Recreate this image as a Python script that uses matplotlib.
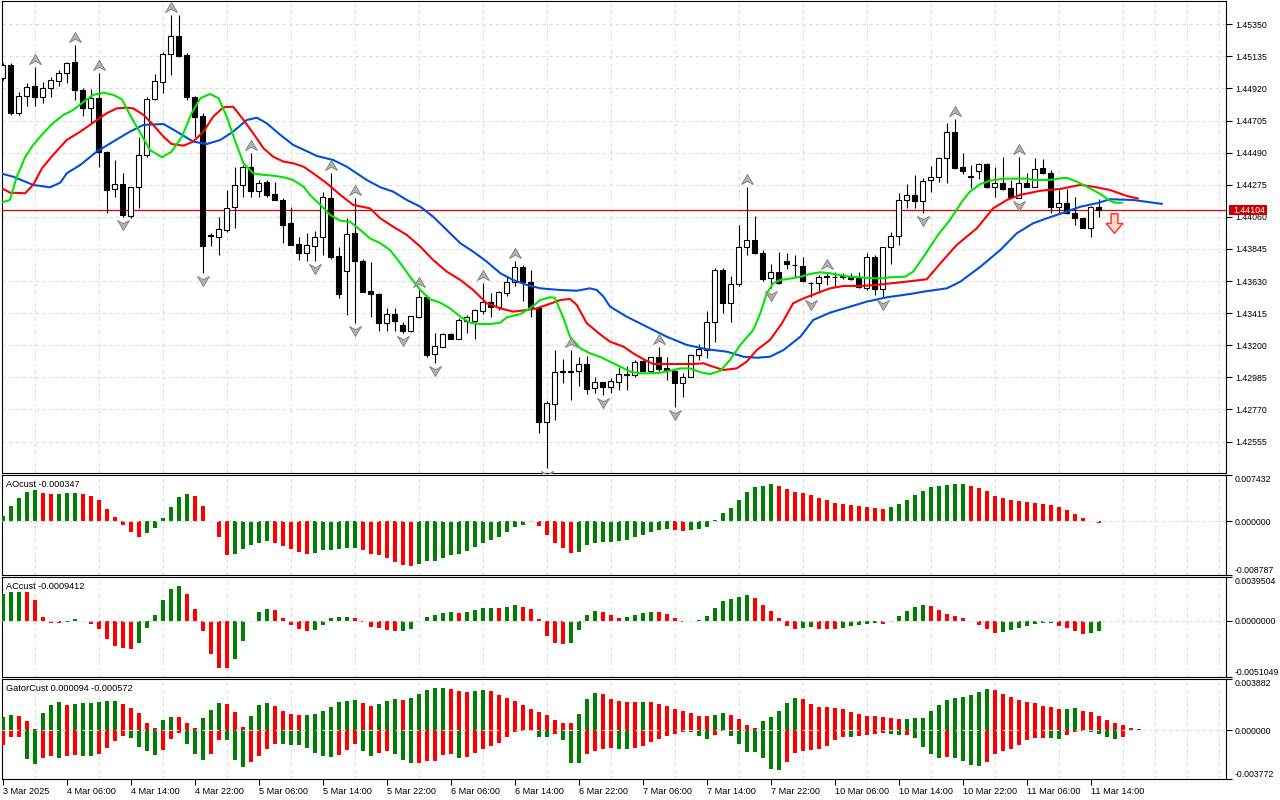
import numpy as np
import matplotlib
matplotlib.use("Agg")
import matplotlib.pyplot as plt
from matplotlib.path import Path
from matplotlib.patches import Rectangle

plt.rcParams['font.family'] = ['Liberation Sans', 'DejaVu Sans']
plt.rcParams['font.size'] = 6.6

# ---- H1 candles, oldest first (3 Mar 22:00 -> 11 Mar 15:00) ----
opens = [1.44990, 1.45078, 1.44756, 1.44870, 1.44937, 1.44863, 1.44923, 1.44970, 1.45024, 1.45098,
         1.44910, 1.44789, 1.44856, 1.44495, 1.44247, 1.44280, 1.44066, 1.44260, 1.44475, 1.44850,
         1.44964, 1.45151, 1.45272, 1.45145, 1.44863, 1.44736, 1.43932, 1.43925, 1.43972, 1.44126,
         1.44274, 1.44394, 1.44233, 1.44294, 1.44213, 1.44173, 1.44019, 1.43878, 1.43818, 1.43867,
         1.43927, 1.44184, 1.43800, 1.43699, 1.43950, 1.43766, 1.43561, 1.43541, 1.43351, 1.43407,
         1.43336, 1.43297, 1.43391, 1.43521, 1.43139, 1.43190, 1.43275, 1.43240, 1.43362, 1.43364,
         1.43431, 1.43488, 1.43458, 1.43552, 1.43626, 1.43722, 1.43626, 1.43447, 1.42688, 1.42806,
         1.43023, 1.43027, 1.43029, 1.43072, 1.42911, 1.42952, 1.42922, 1.42956, 1.43001, 1.43001,
         1.43094, 1.43029, 1.43119, 1.43045, 1.43029, 1.42949, 1.42989, 1.43133, 1.43168, 1.43358,
         1.43704, 1.43485, 1.43608, 1.43860, 1.43905, 1.43816, 1.43648, 1.43689, 1.43764, 1.43738,
         1.43731, 1.43619, 1.43615, 1.43659, 1.43659, 1.43659, 1.43666, 1.43648, 1.43581, 1.43793,
         1.43575, 1.43856, 1.43934, 1.44173, 1.44205, 1.44164, 1.44307, 1.44325, 1.44452, 1.44627,
         1.44392, 1.44329, 1.44367, 1.44412, 1.44258, 1.44285, 1.44251, 1.44188, 1.44285, 1.44262,
         1.44385, 1.44352, 1.44128, 1.44151, 1.44084, 1.44050, 1.43983, 1.44124]
highs = [1.45091, 1.45091, 1.44897, 1.44957, 1.45064, 1.44964, 1.44997, 1.45044, 1.45098, 1.45212,
         1.44923, 1.44917, 1.45024, 1.44501, 1.44441, 1.44354, 1.44260, 1.44595, 1.44863, 1.45017,
         1.45165, 1.45413, 1.45413, 1.45158, 1.44870, 1.44756, 1.43952, 1.44059, 1.44240, 1.44394,
         1.44408, 1.44488, 1.44307, 1.44307, 1.44294, 1.44186, 1.44126, 1.43925, 1.43952, 1.43965,
         1.44229, 1.44352, 1.43856, 1.44054, 1.44184, 1.43778, 1.43760, 1.43548, 1.43447, 1.43447,
         1.43358, 1.43396, 1.43570, 1.43537, 1.43280, 1.43280, 1.43282, 1.43380, 1.43403, 1.43441,
         1.43619, 1.43548, 1.43563, 1.43659, 1.43764, 1.43738, 1.43704, 1.43463, 1.42826, 1.43168,
         1.43106, 1.43168, 1.43123, 1.43128, 1.42989, 1.42956, 1.42978, 1.43056, 1.43061, 1.43101,
         1.43101, 1.43123, 1.43186, 1.43123, 1.43041, 1.43016, 1.43141, 1.43206, 1.43429, 1.43717,
         1.43717, 1.43664, 1.44006, 1.44262, 1.44066, 1.43838, 1.43744, 1.43827, 1.43820, 1.43805,
         1.43793, 1.43626, 1.43671, 1.43693, 1.43689, 1.43682, 1.43682, 1.43693, 1.43816, 1.43805,
         1.43860, 1.43961, 1.44222, 1.44280, 1.44341, 1.44318, 1.44401, 1.44463, 1.44687, 1.44714,
         1.44490, 1.44408, 1.44419, 1.44418, 1.44392, 1.44459, 1.44307, 1.44459, 1.44352, 1.44456,
         1.44446, 1.44374, 1.44240, 1.44245, 1.44191, 1.44053, 1.44133, 1.44178]
lows = [1.44977, 1.44743, 1.44743, 1.44803, 1.44803, 1.44823, 1.44863, 1.44937, 1.44957, 1.44843,
        1.44736, 1.44689, 1.44394, 1.44086, 1.44193, 1.44059, 1.44053, 1.44119, 1.44461, 1.44843,
        1.44890, 1.45011, 1.45131, 1.44843, 1.44595, 1.43684, 1.43865, 1.43805, 1.43959, 1.43985,
        1.44193, 1.44193, 1.44193, 1.44193, 1.44173, 1.43885, 1.43872, 1.43771, 1.43764, 1.43766,
        1.43805, 1.43776, 1.43514, 1.43403, 1.43347, 1.43557, 1.43387, 1.43297, 1.43297, 1.43297,
        1.43280, 1.43291, 1.43380, 1.43119, 1.43083, 1.43186, 1.43240, 1.43240, 1.43282, 1.43240,
        1.43409, 1.43391, 1.43436, 1.43532, 1.43597, 1.43498, 1.43391, 1.42610, 1.42375, 1.42699,
        1.42945, 1.42833, 1.42927, 1.42871, 1.42878, 1.42867, 1.42878, 1.42900, 1.42900, 1.42989,
        1.43029, 1.43023, 1.43029, 1.42967, 1.42784, 1.42855, 1.42985, 1.43101, 1.43112, 1.43224,
        1.43418, 1.43358, 1.43597, 1.43805, 1.43811, 1.43632, 1.43585, 1.43610, 1.43711, 1.43659,
        1.43626, 1.43525, 1.43552, 1.43604, 1.43599, 1.43644, 1.43637, 1.43581, 1.43570, 1.43537,
        1.43525, 1.43744, 1.43872, 1.44117, 1.44117, 1.44084, 1.44229, 1.44296, 1.44289, 1.44381,
        1.44347, 1.44251, 1.44312, 1.44253, 1.44195, 1.44240, 1.44188, 1.44184, 1.44258, 1.44258,
        1.44347, 1.44088, 1.44088, 1.44079, 1.44006, 1.43983, 1.43927, 1.44061]
closes = [1.45078, 1.44756, 1.44870, 1.44930, 1.44863, 1.44923, 1.44977, 1.45024, 1.45091, 1.44910,
          1.44789, 1.44856, 1.44495, 1.44240, 1.44280, 1.44073, 1.44260, 1.44475, 1.44850, 1.44970,
          1.45151, 1.45272, 1.45138, 1.44863, 1.44729, 1.43865, 1.43939, 1.43979, 1.44119, 1.44274,
          1.44394, 1.44233, 1.44287, 1.44207, 1.44173, 1.44006, 1.43872, 1.43818, 1.43872, 1.43927,
          1.44191, 1.43793, 1.43541, 1.43943, 1.43766, 1.43559, 1.43541, 1.43351, 1.43407, 1.43364,
          1.43297, 1.43396, 1.43525, 1.43135, 1.43195, 1.43275, 1.43242, 1.43369, 1.43389, 1.43436,
          1.43492, 1.43454, 1.43555, 1.43626, 1.43722, 1.43626, 1.43447, 1.42688, 1.42811, 1.43023,
          1.43027, 1.43023, 1.43072, 1.42905, 1.42952, 1.42922, 1.42960, 1.43007, 1.43004, 1.43086,
          1.43029, 1.43119, 1.43039, 1.43029, 1.42949, 1.42989, 1.43135, 1.43173, 1.43358, 1.43704,
          1.43485, 1.43608, 1.43860, 1.43905, 1.43820, 1.43644, 1.43689, 1.43615, 1.43742, 1.43735,
          1.43632, 1.43616, 1.43655, 1.43662, 1.43656, 1.43662, 1.43642, 1.43588, 1.43793, 1.43575,
          1.43856, 1.43934, 1.44173, 1.44205, 1.44164, 1.44300, 1.44325, 1.44452, 1.44627, 1.44387,
          1.44369, 1.44332, 1.44412, 1.44257, 1.44289, 1.44247, 1.44190, 1.44285, 1.44262, 1.44381,
          1.44352, 1.44128, 1.44151, 1.44084, 1.44050, 1.43985, 1.44124, 1.44104]
LAST_PRICE = 1.44104

# Bill Williams fractals (bar indices)
up_fractals = [4, 9, 12, 21, 31, 41, 44, 52, 60, 64, 71, 82, 93, 103, 119, 127]
down_fractals = [15, 25, 39, 44, 50, 54, 68, 75, 84, 96, 101, 110, 115, 127]

# sell signal object
signal_bar = 138.9
signal_price = 1.44016

# Alligator lines (bar index, price); shifted lines run past the last bar
jaw_x = [-0.3, 1.3, 3.8, 5.9, 7.2, 8.0, 9.7, 11.75, 13.8, 15.9, 17.6, 20.1, 21.75, 23.8, 25.5, 27.2, 28.8,
         30.5, 31.75, 33.0, 34.7, 36.3, 38.4, 39.25, 41.3, 43.0, 45.5, 47.2, 48.8, 50.5, 52.2, 53.8, 55.5,
         57.2, 58.8, 60.5, 62.2, 63.8, 65.5, 67.2, 69.7, 71.75, 73.4, 74.25, 75.1, 75.9, 78.0, 80.5, 83.0,
         85.5, 88.0, 90.5, 92.6, 94.25, 95.9, 97.6, 99.7, 101.3, 103.4, 105.9, 108.0, 110.5, 113.4, 115.1,
         118.0, 119.7, 122.2, 124.7, 126.75, 128.8, 130.5, 132.6, 134.7, 136.75, 138.4, 141.3, 145.0]
jaw_y = [1.44352, 1.44329, 1.44274, 1.44258, 1.44289, 1.44352, 1.44408, 1.44497, 1.44564, 1.44631, 1.44676,
         1.44682, 1.44631, 1.44564, 1.44548, 1.44575, 1.44631, 1.44709, 1.44724, 1.44687, 1.44609, 1.44542,
         1.44490, 1.44468, 1.44441, 1.44396, 1.44307, 1.44258, 1.44229, 1.44173, 1.44128, 1.44061, 1.43972,
         1.43883, 1.43827, 1.43760, 1.43682, 1.43637, 1.43604, 1.43581, 1.43570, 1.43565, 1.43581, 1.43570,
         1.43525, 1.43459, 1.43391, 1.43324, 1.43257, 1.43202, 1.43173, 1.43157, 1.43123, 1.43116, 1.43123,
         1.43168, 1.43257, 1.43369, 1.43418, 1.43458, 1.43492, 1.43521, 1.43543, 1.43559, 1.43581, 1.43626,
         1.43726, 1.43838, 1.43950, 1.44017, 1.44050, 1.44088, 1.44128, 1.44151, 1.44178, 1.44173, 1.44146]
teeth_x = [-0.3, 0.9, 2.8, 3.8, 4.9, 6.3, 8.0, 9.7, 11.3, 13.0, 14.25, 15.5, 16.3, 17.6, 18.8, 20.1, 21.1,
           22.6, 23.8, 25.1, 26.3, 27.6, 28.8, 30.1, 31.3, 32.6, 33.8, 35.1, 36.3, 37.6, 38.8, 40.5, 42.2,
           43.8, 45.9, 47.2, 48.8, 50.5, 52.2, 53.8, 55.5, 57.2, 58.8, 60.5, 62.2, 63.8, 65.5, 66.75, 68.0,
           69.7, 70.9, 71.75, 73.0, 74.7, 75.9, 77.6, 78.8, 80.1, 81.3, 83.0, 84.7, 86.3, 87.6, 88.8, 90.1,
           91.75, 93.0, 94.25, 95.9, 97.4, 98.8, 100.1, 101.75, 103.4, 105.1, 107.2, 109.25, 110.9, 113.0,
           115.5, 117.2, 119.25, 121.75, 123.8, 125.5, 127.2, 129.7, 132.2, 134.7, 136.3, 138.4, 140.5, 142.0]
teeth_y = [1.44258, 1.44222, 1.44218, 1.44274, 1.44385, 1.44475, 1.44575, 1.44631, 1.44691, 1.44754, 1.44787,
           1.44791, 1.44787, 1.44743, 1.44676, 1.44597, 1.44548, 1.44537, 1.44564, 1.44631, 1.44731, 1.44794,
           1.44798, 1.44709, 1.44620, 1.44519, 1.44463, 1.44430, 1.44419, 1.44396, 1.44352, 1.44285, 1.44207,
           1.44140, 1.44117, 1.44050, 1.43994, 1.43939, 1.43860, 1.43771, 1.43693, 1.43637, 1.43570, 1.43481,
           1.43447, 1.43425, 1.43436, 1.43447, 1.43470, 1.43503, 1.43510, 1.43470, 1.43347, 1.43272, 1.43224,
           1.43190, 1.43146, 1.43106, 1.43074, 1.43074, 1.43074, 1.43074, 1.43079, 1.43056, 1.43034, 1.43045,
           1.43090, 1.43168, 1.43235, 1.43347, 1.43481, 1.43514, 1.43548, 1.43581, 1.43597, 1.43597, 1.43604,
           1.43614, 1.43626, 1.43642, 1.43749, 1.43872, 1.43983, 1.44117, 1.44173, 1.44207, 1.44235, 1.44247,
           1.44274, 1.44262, 1.44240, 1.44200, 1.44182]
lips_x = [-0.3, 0.9, 1.75, 2.8, 3.8, 5.1, 6.3, 7.6, 8.8, 10.1, 11.3, 12.6, 13.8, 14.9, 15.9, 17.2, 18.4, 19.9,
          21.1, 22.4, 23.6, 24.7, 25.9, 27.0, 28.0, 29.0, 30.1, 31.3, 32.6, 33.8, 35.1, 36.3, 37.6, 38.4, 39.7,
          40.9, 42.2, 43.4, 44.7, 45.9, 47.2, 48.4, 49.7, 50.9, 52.2, 53.4, 54.7, 55.9, 57.2, 58.4, 59.7, 60.9,
          62.2, 63.0, 64.7, 65.9, 67.2, 68.4, 69.0, 70.1, 70.9, 72.2, 73.4, 74.7, 75.9, 77.2, 78.4, 79.7, 80.9,
          82.2, 83.4, 84.7, 85.9, 87.2, 88.4, 89.7, 90.9, 92.2, 93.8, 94.7, 95.5, 96.3, 97.2, 98.4, 99.7, 100.9,
          102.2, 103.4, 104.7, 105.9, 107.2, 108.4, 109.7, 110.9, 112.8, 113.8, 115.1, 116.9, 118.4, 119.9,
          120.9, 122.2, 123.4, 125.1, 128.0, 128.8, 130.9, 132.2, 133.0, 134.25, 135.5, 137.2, 138.4, 139.0, 140.0]
lips_y = [1.44153, 1.44173, 1.44327, 1.44461, 1.44542, 1.44622, 1.44689, 1.44743, 1.44776, 1.44830, 1.44877,
          1.44892, 1.44877, 1.44848, 1.44743, 1.44622, 1.44508, 1.44459, 1.44497, 1.44597, 1.44754, 1.44854,
          1.44883, 1.44854, 1.44731, 1.44575, 1.44419, 1.44352, 1.44341, 1.44336, 1.44325, 1.44307, 1.44262,
          1.44207, 1.44140, 1.44073, 1.44034, 1.44028, 1.43972, 1.43916, 1.43883, 1.43838, 1.43749, 1.43659,
          1.43570, 1.43508, 1.43485, 1.43447, 1.43391, 1.43351, 1.43342, 1.43342, 1.43351, 1.43387, 1.43409,
          1.43447, 1.43503, 1.43521, 1.43518, 1.43380, 1.43257, 1.43179, 1.43146, 1.43121, 1.43090, 1.43056,
          1.43023, 1.43012, 1.43012, 1.43016, 1.43029, 1.43045, 1.43045, 1.43019, 1.43007, 1.43029, 1.43101,
          1.43202, 1.43302, 1.43414, 1.43548, 1.43615, 1.43637, 1.43646, 1.43659, 1.43677, 1.43689, 1.43682,
          1.43669, 1.43659, 1.43655, 1.43650, 1.43647, 1.43655, 1.43659, 1.43693, 1.43793, 1.43939, 1.44039,
          1.44162, 1.44229, 1.44280, 1.44302, 1.44316, 1.44316, 1.44307, 1.44307, 1.44318, 1.44322, 1.44296,
          1.44262, 1.44213, 1.44168, 1.44155, 1.44155]

# Awesome Oscillator
ao = [0.000812, 0.002435, 0.003733, 0.004707, 0.004977, 0.004544, 0.004382, 0.004436, 0.004544, 0.004598,
      0.004328, 0.004003, 0.003408, 0.001948, 0.000649, -0.000595, -0.001785, -0.002597, -0.001948, -0.001082,
      0.000487, 0.002272, 0.003895, 0.004382, 0.004058, 0.002435, -0.000054, -0.002597, -0.005464, -0.005302,
      -0.004490, -0.003841, -0.003571, -0.003246, -0.003571, -0.004058, -0.004490, -0.005031, -0.005356, -0.005194,
      -0.004707, -0.004653, -0.004490, -0.004436, -0.004328, -0.004653, -0.005356, -0.005464, -0.006005, -0.006654,
      -0.007141, -0.007304, -0.006925, -0.006546, -0.006492, -0.006005, -0.005464, -0.005302, -0.004869, -0.004220,
      -0.003571, -0.003084, -0.002597, -0.001785, -0.000974, -0.000595, -0.000162, -0.000812, -0.002272, -0.003571,
      -0.004382, -0.005194, -0.005031, -0.003895, -0.003571, -0.003408, -0.003354, -0.003246, -0.003084, -0.002597,
      -0.002272, -0.001785, -0.001461, -0.001298, -0.001461, -0.001623, -0.001461, -0.001298, -0.000974, 0.000108,
      0.001298, 0.002110, 0.003408, 0.004707, 0.005518, 0.005681, 0.006005, 0.005681, 0.005194, 0.004707,
      0.004490, 0.004166, 0.003787, 0.003408, 0.002921, 0.002759, 0.002597, 0.002435, 0.002272, 0.002110,
      0.001948, 0.002272, 0.002759, 0.003408, 0.004220, 0.004869, 0.005518, 0.005681, 0.005843, 0.006005,
      0.006059, 0.005681, 0.005356, 0.004869, 0.004058, 0.003733, 0.003408, 0.003246, 0.003084, 0.002921,
      0.002759, 0.002597, 0.002272, 0.001785, 0.001136, 0.000487, -0.000054, -0.000347]

# Accelerator Oscillator
ac = [0.002476, 0.002627, 0.002658, 0.002627, 0.001903, 0.000362, -0.000151, -0.000181, -0.000060, 0.000181,
      -0.000030, -0.000242, -0.000695, -0.001601, -0.002235, -0.002416, -0.002507, -0.001963, -0.000604, 0.000513,
      0.001903, 0.002899, 0.003171, 0.002446, 0.001087, -0.000876, -0.002960, -0.004228, -0.004258, -0.003413,
      -0.001782, -0.000030, 0.000815, 0.001087, 0.000997, 0.000272, -0.000332, -0.000695, -0.000876, -0.000846,
      -0.000332, 0.000272, 0.000362, 0.000393, 0.000272, -0.000060, -0.000513, -0.000604, -0.000785, -0.000936,
      -0.000906, -0.000695, -0.000030, 0.000362, 0.000544, 0.000725, 0.000815, 0.000725, 0.000815, 0.000997,
      0.001178, 0.001208, 0.001178, 0.001268, 0.001450, 0.001268, 0.001087, 0.000181, -0.001329, -0.001963,
      -0.002054, -0.001963, -0.000785, 0.000544, 0.000906, 0.000815, 0.000544, 0.000272, 0.000362, 0.000544,
      0.000725, 0.000815, 0.000785, 0.000634, 0.000272, -0.000060, -0.000030, 0.000091, 0.000453, 0.001178,
      0.001812, 0.001993, 0.002174, 0.002356, 0.002084, 0.001450, 0.000906, 0.000272, -0.000423, -0.000695,
      -0.000604, -0.000574, -0.000695, -0.000725, -0.000755, -0.000604, -0.000423, -0.000332, -0.000242, -0.000211,
      -0.000242, -0.000060, 0.000453, 0.000906, 0.001268, 0.001450, 0.001359, 0.000997, 0.000634, 0.000453,
      0.000272, -0.000030, -0.000332, -0.000695, -0.001057, -0.000966, -0.000785, -0.000604, -0.000423, -0.000242,
      -0.000211, -0.000181, -0.000423, -0.000604, -0.000876, -0.001148, -0.001117, -0.0009412]

# Gator oscillator (upper = |jaw-teeth|, lower = -|teeth-lips|)
gator_up = [0.000995, 0.001148, 0.001046, 0.000689, 0.000077, 0.001301, 0.001913, 0.002142, 0.001913, 0.001989,
            0.002066, 0.002091, 0.002142, 0.002219, 0.002244, 0.001989, 0.001683, 0.001301, 0.000536, 0.000153,
            0.000765, 0.000995, 0.000969, 0.000536, 0.000153, 0.000918, 0.001530, 0.002066, 0.001989, 0.001377,
            0.000230, 0.001071, 0.001913, 0.002066, 0.001836, 0.001454, 0.001224, 0.001148, 0.001173, 0.001224,
            0.001454, 0.001760, 0.002142, 0.002219, 0.002295, 0.002066, 0.001836, 0.001989, 0.002219, 0.002372,
            0.002295, 0.002448, 0.002754, 0.003060, 0.003213, 0.003239, 0.003137, 0.002984, 0.002907, 0.002984,
            0.003060, 0.002984, 0.002678, 0.002448, 0.002219, 0.001913, 0.001607, 0.001377, 0.001148, 0.000765,
            0.000561, 0.000536, 0.001224, 0.002372, 0.002831, 0.002754, 0.002372, 0.002219, 0.002142, 0.002117,
            0.002168, 0.002142, 0.001989, 0.001836, 0.001607, 0.001454, 0.001301, 0.001071, 0.001046, 0.001148,
            0.001301, 0.001148, 0.000842, 0.000383, 0.000153, 0.000689, 0.000995, 0.001454, 0.002066, 0.002448,
            0.002372, 0.001989, 0.001760, 0.001734, 0.001709, 0.001607, 0.001377, 0.001224, 0.001071, 0.001046,
            0.001020, 0.000918, 0.000842, 0.000867, 0.000893, 0.000918, 0.001454, 0.001913, 0.002295, 0.002448,
            0.002525, 0.002678, 0.002907, 0.003137, 0.003060, 0.002754, 0.002525, 0.002295, 0.002142, 0.002066,
            0.001836, 0.001760, 0.001607, 0.001632, 0.001658, 0.001454, 0.001377, 0.001071, 0.000765, 0.000536,
            0.000383, 0.000153, 0.000094]
gator_lo = [-0.001122, -0.000536, -0.000510, -0.002193, -0.002601, -0.002142, -0.001989, -0.002142, -0.001989, -0.001938,
            -0.001964, -0.001989, -0.001836, -0.001377, -0.000816, -0.000459, -0.000612, -0.001301, -0.001607, -0.001913,
            -0.001530, -0.000689, -0.000230, -0.001071, -0.001836, -0.002295, -0.001836, -0.000765, -0.000791, -0.002295,
            -0.002831, -0.002448, -0.001989, -0.001454, -0.001071, -0.001097, -0.001122, -0.001148, -0.001377, -0.001760,
            -0.001989, -0.002066, -0.001913, -0.001530, -0.001071, -0.001607, -0.001989, -0.001760, -0.001607, -0.001836,
            -0.002295, -0.002525, -0.002499, -0.002372, -0.002346, -0.001913, -0.001836, -0.002142, -0.002066, -0.001760,
            -0.001454, -0.001224, -0.000995, -0.000536, -0.000153, -0.000077, -0.000051, -0.000536, -0.000561, -0.000306,
            -0.000765, -0.002525, -0.002550, -0.001836, -0.001607, -0.001454, -0.001377, -0.001454, -0.001479, -0.001377,
            -0.001224, -0.000918, -0.000689, -0.000459, -0.000306, -0.000153, -0.000179, -0.000459, -0.000689, -0.000383,
            -0.000077, -0.000459, -0.001071, -0.001683, -0.001709, -0.002142, -0.002984, -0.003060, -0.002448, -0.001760,
            -0.001607, -0.001530, -0.001454, -0.001224, -0.000765, -0.000536, -0.000561, -0.000459, -0.000383, -0.000306,
            -0.000230, -0.000306, -0.000383, -0.000357, -0.000612, -0.001301, -0.001836, -0.002142, -0.002066, -0.002142,
            -0.002372, -0.002678, -0.002754, -0.002448, -0.001836, -0.001607, -0.001454, -0.001148, -0.000765, -0.000612,
            -0.000587, -0.000612, -0.000689, -0.000383, -0.000153, -0.000102, -0.000128, -0.000281, -0.000536, -0.000689,
            -0.000572]

price_ticks = [1.45350, 1.45135, 1.44920, 1.44705, 1.44490, 1.44275, 1.44060,
               1.43845, 1.43630, 1.43415, 1.43200, 1.42985, 1.42770, 1.42555]
time_labels = ['3 Mar 2025', '4 Mar 06:00', '4 Mar 14:00', '4 Mar 22:00', '5 Mar 06:00', '5 Mar 14:00',
               '5 Mar 22:00', '6 Mar 06:00', '6 Mar 14:00', '6 Mar 22:00', '7 Mar 06:00', '7 Mar 14:00',
               '7 Mar 22:00', '10 Mar 06:00', '10 Mar 14:00', '10 Mar 22:00', '11 Mar 06:00', '11 Mar 14:00']

# window scales of the three sub-windows
ao_range = (-0.008787, 0.007432)
ac_range = (-0.0051049, 0.0039504)
gator_range = (-0.003772, 0.003882)

GREEN = '#008000'
RED = '#ff0000'
GRID = '#dcdcdc'
DASH = (0, (3, 3))
NUM_SIZE = 6.3


def rising(vals, first):
    v = np.asarray(vals)
    out = np.empty(len(v), dtype=bool)
    out[0] = first
    out[1:] = v[1:] > v[:-1]
    return out


def bar_colors(flags):
    return [GREEN if f else RED for f in flags]


fig = plt.figure(figsize=(12.8, 8), dpi=100)
L, W = 0.0012, 0.9566
ax = fig.add_axes([L, 0.40875, W, 0.59])
ax_ao = fig.add_axes([L, 0.28088, W, 0.125])
ax_ac = fig.add_axes([L, 0.15338, W, 0.125])
ax_gt = fig.add_axes([L, 0.02588, W, 0.125])
XLIM = (-0.15, 152.9)

for a in (ax, ax_ao, ax_ac, ax_gt):
    a.set_xlim(*XLIM)
    a.set_xticks(np.arange(0, 137, 8))
    a.set_xticks(np.arange(4, 153, 4), minor=True)
    a.tick_params(axis='x', which='minor', length=0)
    a.grid(True, which='minor', axis='x', color=GRID, ls=DASH, lw=0.8)
    a.set_axisbelow(True)
    for s in a.spines.values():
        s.set_linewidth(0.8)
        s.set_color('black')
    if a is not ax_gt:
        a.tick_params(axis='x', which='major', length=0, labelbottom=False)

# ---- main window: candles ----
o, h, l, c = (np.array(v) for v in (opens, highs, lows, closes))
x = np.arange(len(o))
bull = c >= o
ax.vlines(x, l, h, color='black', lw=0.8, zorder=3)
ax.bar(x, np.maximum(np.abs(c - o), 1e-5), bottom=np.minimum(o, c), width=0.6,
       color=np.where(bull, 'white', 'black'), edgecolor='black', linewidth=0.8, zorder=4)

ax.plot(jaw_x, jaw_y, color='#0050d8', lw=1.5, zorder=5, solid_capstyle='butt')
ax.plot(teeth_x, teeth_y, color='#ff0000', lw=1.5, zorder=5, solid_capstyle='butt')
ax.plot(lips_x, lips_y, color='#00e600', lw=1.5, zorder=5, solid_capstyle='butt')

ymin, ymax = 1.42344, 1.45506
ax.set_ylim(ymin, ymax)
off = (ymax - ymin) / 472 * 8

up_mark = Path([(0, 0.85), (1, -0.85), (0, -0.3), (-1, -0.85), (0, 0.85)],
               [Path.MOVETO, Path.LINETO, Path.LINETO, Path.LINETO, Path.CLOSEPOLY])
dn_mark = Path([(0, -0.85), (1, 0.85), (0, 0.3), (-1, 0.85), (0, -0.85)],
               [Path.MOVETO, Path.LINETO, Path.LINETO, Path.LINETO, Path.CLOSEPOLY])
ax.plot(up_fractals, h[up_fractals] + off, ls='none', marker=up_mark, ms=8.6,
        mfc='#b0b0b0', mec='#7d7d7d', mew=0.6, zorder=6)
ax.plot(down_fractals, l[down_fractals] - off, ls='none', marker=dn_mark, ms=8.6,
        mfc='#b0b0b0', mec='#7d7d7d', mew=0.6, zorder=6)

sell_mark = Path([(-0.35, 1), (0.35, 1), (0.35, 0), (0.85, 0), (0, -1), (-0.85, 0), (-0.35, 0), (-0.35, 1)],
                 [Path.MOVETO] + [Path.LINETO] * 6 + [Path.CLOSEPOLY])
ax.plot([signal_bar], [signal_price], marker=sell_mark, ms=14, mfc='#ffdccf', mec='#ff3b30',
        mew=1.1, ls='none', zorder=7)

ax.axhline(LAST_PRICE, color='#e00000', lw=0.9, zorder=2)

ax.yaxis.tick_right()
ax.set_yticks(price_ticks)
ax.set_yticklabels([f'{p:.5f}' for p in price_ticks], fontsize=NUM_SIZE)
ax.tick_params(axis='y', length=4, width=0.8, pad=2.4)
ax.grid(True, axis='y', color=GRID, ls=DASH, lw=0.8)

# last-price label box on the price scale
px = (ymax - ymin) / 472
ax.add_patch(Rectangle((1.0027, LAST_PRICE - 5 * px), 0.031, 10 * px, transform=ax.get_yaxis_transform(),
                       fc='#cc0000', ec='none', clip_on=False, zorder=10))
ax.text(1.0060, LAST_PRICE, f'{LAST_PRICE:.5f}', transform=ax.get_yaxis_transform(),
        color='white', va='center', ha='left', fontsize=NUM_SIZE, zorder=11, clip_on=False)


# ---- sub windows ----
def window_scale(a, lo, hi, digits):
    a.set_ylim(lo, hi)
    a.yaxis.tick_right()
    a.set_yticks([lo, 0.0, hi])
    a.set_yticklabels([f'{v:.{digits}f}' for v in (lo, 0.0, hi)], fontsize=NUM_SIZE)
    labs = a.get_yticklabels()
    labs[0].set_va('bottom')
    labs[2].set_va('top')
    a.tick_params(axis='y', length=4, width=0.8, pad=2.0)
    a.axhline(0, color=GRID, ls=DASH, lw=0.8, zorder=4)


ax_ao.bar(np.arange(len(ao)), ao, width=0.5, color=bar_colors(rising(ao, True)), zorder=3)
window_scale(ax_ao, *ao_range, 6)
ax_ao.text(0.0037, 0.91, f'AOcust {ao[-1]:.6f}', transform=ax_ao.transAxes, va='center')

ax_ac.bar(np.arange(len(ac)), ac, width=0.5, color=bar_colors(rising(ac, True)), zorder=3)
window_scale(ax_ac, *ac_range, 7)
ax_ac.text(0.0037, 0.91, f'ACcust {ac[-1]:.7f}', transform=ax_ac.transAxes, va='center')

ax_gt.bar(np.arange(len(gator_up)), gator_up, width=0.5,
          color=bar_colors(rising(gator_up, True)), zorder=3)
ax_gt.bar(np.arange(len(gator_lo)), gator_lo, width=0.5,
          color=bar_colors(rising(np.abs(gator_lo), False)), zorder=3)
window_scale(ax_gt, *gator_range, 6)
ax_gt.text(0.0037, 0.91, f'GatorCust {gator_up[-1]:.6f} {gator_lo[-1]:.6f}',
           transform=ax_gt.transAxes, va='center')

ax_gt.set_xticklabels(time_labels, ha='left')
ax_gt.tick_params(axis='x', which='major', length=4, width=0.8, pad=1.5)

fig.savefig('out.png', dpi=100)
